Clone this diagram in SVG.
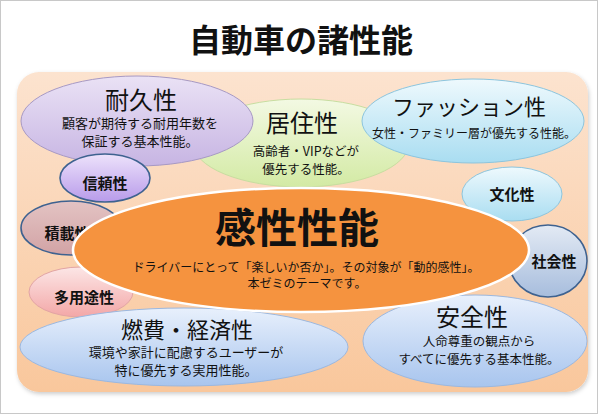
<svg xmlns="http://www.w3.org/2000/svg" width="600" height="415" viewBox="0 0 600 415">
<defs>
<linearGradient id="gPanel" x1="0" y1="0" x2="0" y2="1"><stop offset="0" stop-color="#FCE3CF"/><stop offset="1" stop-color="#F9C79C"/></linearGradient>
<linearGradient id="gPurple" x1="0" y1="0" x2="0" y2="1"><stop offset="0" stop-color="#EAE2F5"/><stop offset="1" stop-color="#C7B5E3"/></linearGradient>
<linearGradient id="gGreen" x1="0" y1="0" x2="0" y2="1"><stop offset="0" stop-color="#F3F9E3"/><stop offset="1" stop-color="#D3EAA4"/></linearGradient>
<linearGradient id="gCyan" x1="0" y1="0" x2="0" y2="1"><stop offset="0" stop-color="#EEF9FD"/><stop offset="1" stop-color="#A9DDF1"/></linearGradient>
<linearGradient id="gViolet" x1="0" y1="0" x2="0" y2="1"><stop offset="0" stop-color="#EDE2FB"/><stop offset="1" stop-color="#B89BEA"/></linearGradient>
<linearGradient id="gRose" x1="0" y1="0" x2="0" y2="1"><stop offset="0" stop-color="#E3C3C3"/><stop offset="1" stop-color="#D2A3A5"/></linearGradient>
<linearGradient id="gPink" x1="0" y1="0" x2="0" y2="1"><stop offset="0" stop-color="#FCE6E6"/><stop offset="1" stop-color="#F3A7A7"/></linearGradient>
<linearGradient id="gBlue" x1="0" y1="0" x2="0" y2="1"><stop offset="0" stop-color="#E8F0FC"/><stop offset="1" stop-color="#A8C5EE"/></linearGradient>
<linearGradient id="gSteel" x1="0" y1="0" x2="0" y2="1"><stop offset="0" stop-color="#E3EAF4"/><stop offset="1" stop-color="#A7BDDD"/></linearGradient>
<filter id="sh" x="-5%" y="-5%" width="110%" height="115%"><feDropShadow dx="1" dy="2" stdDeviation="2" flood-color="#000" flood-opacity="0.2"/></filter>
</defs>
<style>
text{font-family:"Noto Sans CJK JP","Noto Sans CJK SC",sans-serif;fill:#111;text-anchor:middle}
.t{font-size:24px}
.s{font-size:13px}
.b{font-weight:bold;font-size:15px}
.thin{stroke-width:1}
.dark{stroke:#3E6290;stroke-width:1.6}
</style>
<rect x="0.5" y="0.5" width="597" height="413" fill="#fff" stroke="#C8C8C8"/>
<text x="301" y="52" style="font-size:32px;font-weight:bold">自動車の諸性能</text>
<rect x="17" y="72" width="571" height="320" rx="22" fill="url(#gPanel)" filter="url(#sh)"/>

<g id="node-kyoju">
<ellipse cx="301" cy="143" rx="108" ry="44" fill="url(#gGreen)" stroke="#C8DDA0" class="thin"/>
<text x="302" y="132" class="t">居住性</text>
<text x="306" y="156" style="font-size:12.5px">高齢者・VIPなどが</text>
<text x="306" y="174" style="font-size:12.5px">優先する性能。</text>
</g>
<g id="node-taikyu">
<ellipse cx="137" cy="121" rx="116" ry="45" fill="url(#gPurple)" stroke="#A799C4" class="thin"/>
<text x="141" y="109" class="t">耐久性</text>
<text x="140" y="128" class="s">顧客が期待する耐用年数を</text>
<text x="140" y="146" class="s">保証する基本性能。</text>
</g>
<g id="node-fashion">
<ellipse cx="473" cy="121" rx="111" ry="42" fill="url(#gCyan)" stroke="#8CC5DE" class="thin"/>
<text x="469" y="115" style="font-size:22px">ファッション性</text>
<text x="474" y="138" style="font-size:12px">女性・ファミリー層が優先する性能。</text>
</g>
<g id="node-shinrai">
<ellipse cx="105" cy="178" rx="45" ry="24" fill="url(#gViolet)" class="dark"/>
<text x="105" y="189" class="b">信頼性</text>
</g>
<g id="node-sekisai">
<ellipse cx="71" cy="228" rx="50" ry="27" fill="url(#gRose)" class="dark"/>
<text x="67" y="239" class="b">積載性</text>
</g>
<g id="node-tayoto">
<ellipse cx="81" cy="292" rx="52" ry="25" fill="url(#gPink)" stroke="#E2A4A4" class="thin"/>
<text x="84" y="303" class="b">多用途性</text>
</g>
<g id="node-bunka">
<ellipse cx="512" cy="194" rx="50" ry="27" fill="url(#gCyan)" stroke="#8CC5DE" class="thin"/>
<text x="512" y="200" class="b">文化性</text>
</g>
<g id="node-shakai">
<ellipse cx="548" cy="261" rx="39" ry="36" fill="url(#gSteel)" class="dark"/>
<text x="554" y="267" class="b">社会性</text>
</g>
<g id="node-nenpi">
<ellipse cx="184" cy="347" rx="164" ry="39" fill="url(#gBlue)" stroke="#9BB8E0" class="thin"/>
<text x="187" y="338" style="font-size:22px">燃費・経済性</text>
<text x="186" y="357" class="s">環境や家計に配慮するユーザーが</text>
<text x="186" y="375" class="s">特に優先する実用性能。</text>
</g>
<g id="node-anzen">
<ellipse cx="475" cy="341" rx="112" ry="46" fill="url(#gBlue)" stroke="#9BB8E0" class="thin"/>
<text x="472" y="326" class="t">安全性</text>
<text x="479" y="346" style="font-size:12.5px">人命尊重の観点から</text>
<text x="479" y="364" style="font-size:12.5px">すべてに優先する基本性能。</text>
</g>
<g id="node-kansei">
<ellipse cx="301" cy="250" rx="228" ry="62" fill="#F5933F" stroke="#fff" stroke-width="2.5"/>
<text x="297" y="243" style="font-size:41px;font-weight:bold">感性性能</text>
<text x="306" y="272" style="font-size:12px">ドライバーにとって「楽しいか否か」。その対象が「動的感性」。</text>
<text x="307" y="288" style="font-size:12px">本ゼミのテーマです。</text>
</g>
<g id="connectors"></g>
</svg>
